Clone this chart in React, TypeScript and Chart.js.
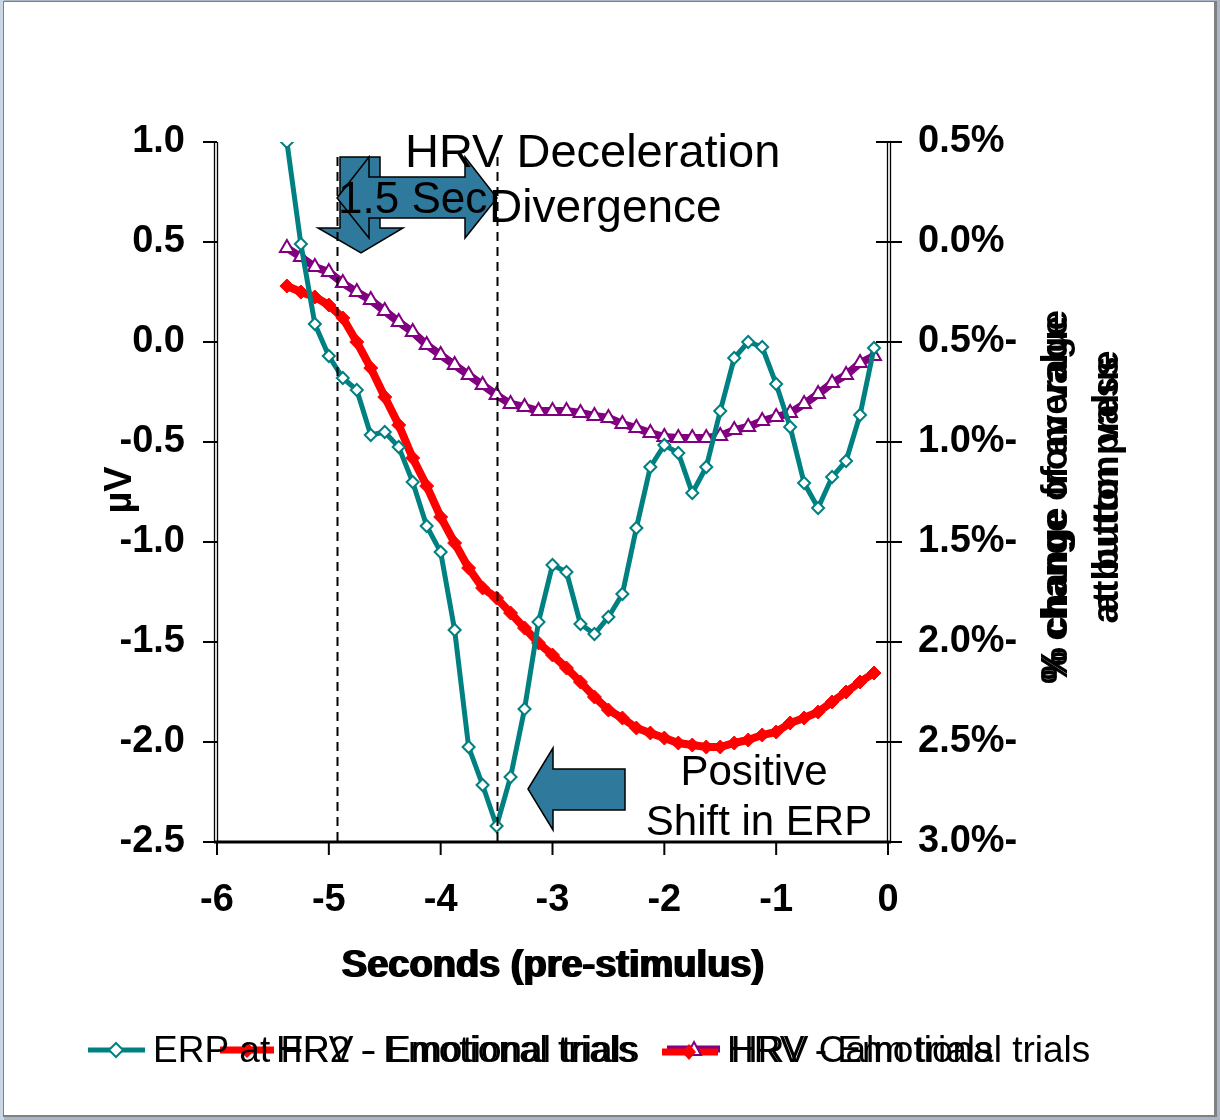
import React, { useEffect, useRef } from "react";
import { Chart, registerables } from "chart.js";

Chart.register(...registerables);

const FONT = "'Liberation Sans', Arial, Helvetica, sans-serif";

// Time of each sample (seconds, pre-stimulus)
const TIMES = [
  -5.375, -5.25, -5.125, -5.0, -4.875, -4.75, -4.625, -4.5, -4.375, -4.25, -4.125,
  -4.0, -3.875, -3.75, -3.625, -3.5, -3.375, -3.25, -3.125, -3.0, -2.875, -2.75,
  -2.625, -2.5, -2.375, -2.25, -2.125, -2.0, -1.875, -1.75, -1.625, -1.5, -1.375,
  -1.25, -1.125, -1.0, -0.875, -0.75, -0.625, -0.5, -0.375, -0.25, -0.125,
];

// ERP at FR2 - Emotional trials (µV, left axis)
const ERP = [
  1.0, 0.49, 0.09, -0.07, -0.18, -0.24, -0.465, -0.45, -0.525, -0.7, -0.92,
  -1.05, -1.44, -2.025, -2.215, -2.42, -2.175, -1.835, -1.4, -1.115, -1.15, -1.41,
  -1.46, -1.375, -1.26, -0.93, -0.625, -0.515, -0.555, -0.755, -0.625, -0.345, -0.08,
  0.0, -0.025, -0.21, -0.425, -0.705, -0.83, -0.675, -0.595, -0.365, -0.03,
];

// HRV - Emotional trials (% change, right axis)
const HRV_EMOTIONAL = [
  -0.22, -0.25, -0.275, -0.315, -0.38, -0.5, -0.63, -0.775, -0.915, -1.08, -1.22,
  -1.375, -1.505, -1.63, -1.73, -1.78, -1.855, -1.93, -2.005, -2.065, -2.13, -2.2,
  -2.275, -2.34, -2.38, -2.43, -2.455, -2.48, -2.505, -2.515, -2.525, -2.525, -2.505,
  -2.49, -2.465, -2.45, -2.405, -2.38, -2.35, -2.3, -2.25, -2.2, -2.155,
];

// HRV Calm trials (% change, right axis)
const HRV_CALM = [
  -0.03, -0.075, -0.125, -0.15, -0.205, -0.25, -0.29, -0.345, -0.4, -0.45, -0.515,
  -0.565, -0.615, -0.665, -0.715, -0.765, -0.81, -0.825, -0.845, -0.845, -0.845, -0.855,
  -0.87, -0.88, -0.91, -0.93, -0.955, -0.975, -0.98, -0.98, -0.98, -0.97, -0.94,
  -0.925, -0.895, -0.875, -0.855, -0.81, -0.76, -0.705, -0.665, -0.605, -0.57,
];

const X_MIN = -6;
const X_MAX = 0;
const Y_MIN = -2.5;
const Y_MAX = 1.0;
const Y1_MIN = -3.0;
const Y1_MAX = 0.5;
const STEP_Y = 0.5;

const DIVIDER_TIMES = [-4.93, -3.5];

const X_TITLE = "Seconds (pre-stimulus)";
const Y_TITLE = "µV";
const Y1_TITLE_A = ["% change from value", "at button press"];
const Y1_TITLE_B = ["% change of average", "at button value"];
const LEGEND_ERP = "ERP at FR2 - Emotional trials";
const LEGEND_HRV_EMO = "HRV - Emotional trials";
const LEGEND_HRV_CALM = "HRV Calm trials";

const TEAL = "#008080";
const RED = "#FF0000";
const PURPLE = "#800080";
const ARROW_FILL = "#2F7A9C";

function poly(ctx: CanvasRenderingContext2D, pts: number[][]) {
  ctx.beginPath();
  ctx.moveTo(pts[0][0], pts[0][1]);
  for (let i = 1; i < pts.length; i++) ctx.lineTo(pts[i][0], pts[i][1]);
  ctx.closePath();
  ctx.fillStyle = ARROW_FILL;
  ctx.fill();
  ctx.strokeStyle = "#000";
  ctx.lineWidth = 1.5;
  ctx.stroke();
}

function seg(ctx: CanvasRenderingContext2D, x1: number, y1: number, x2: number, y2: number) {
  ctx.beginPath();
  ctx.moveTo(x1, y1);
  ctx.lineTo(x2, y2);
  ctx.stroke();
}

const decoPlugin = {
  id: "deco",
  beforeDraw(chart: any) {
    const ctx = chart.ctx as CanvasRenderingContext2D;
    const W = chart.width;
    const H = chart.height;
    ctx.save();
    ctx.fillStyle = "#AAB6C6";
    ctx.fillRect(0, 0, W, H);
    ctx.fillStyle = "#C9D6E6";
    ctx.fillRect(0, 0, 4, H);
    ctx.fillStyle = "#808080";
    ctx.fillRect(3, 1, W - 6, H - 4);
    ctx.fillStyle = "#FFFFFF";
    ctx.fillRect(4, 2, W - 10, H - 7);
    ctx.restore();
  },
  afterDraw(chart: any) {
    const ctx = chart.ctx as CanvasRenderingContext2D;
    const ca = chart.chartArea;
    const xs = chart.scales.x;
    const ys = chart.scales.y;
    const y1s = chart.scales.y1;
    ctx.save();

    // axis lines
    ctx.strokeStyle = "#000";
    ctx.lineWidth = 1.3;
    seg(ctx, ca.left - 2.5, ca.top, ca.left - 2.5, ca.bottom + 1);
    seg(ctx, ca.left + 0.5, ca.top, ca.left + 0.5, ca.bottom + 1);
    seg(ctx, ca.right - 0.5, ca.top, ca.right - 0.5, ca.bottom + 1);
    seg(ctx, ca.right + 2.5, ca.top, ca.right + 2.5, ca.bottom + 1);
    ctx.lineWidth = 3;
    seg(ctx, ca.left - 3, ca.bottom, ca.right + 3, ca.bottom);

    // tick marks
    ctx.lineWidth = 2;
    ys.ticks.forEach((t: any) => {
      const p = ys.getPixelForValue(t.value);
      seg(ctx, ca.left - 14, p, ca.left, p);
    });
    y1s.ticks.forEach((t: any) => {
      const p = y1s.getPixelForValue(t.value);
      seg(ctx, ca.right - 12, p, ca.right + 14, p);
    });
    xs.ticks.forEach((t: any) => {
      const p = xs.getPixelForValue(t.value);
      seg(ctx, p, ca.bottom, p, ca.bottom + 13);
    });

    // arrows
    poly(ctx, [
      [340, 157], [380, 157], [380, 228], [403, 228], [361, 253], [318, 228], [340, 228],
    ]);
    poly(ctx, [
      [337, 198], [369, 157], [369, 177], [465, 177], [465, 157], [497, 198],
      [465, 238], [465, 218], [369, 218], [369, 238],
    ]);
    poly(ctx, [
      [528, 789], [553, 748], [553, 769], [625, 769], [625, 810], [553, 810], [553, 830],
    ]);

    // dashed dividers
    ctx.strokeStyle = "#000";
    ctx.lineWidth = 2;
    ctx.setLineDash([9, 6]);
    DIVIDER_TIMES.forEach((t) => {
      const p = Math.round(xs.getPixelForValue(t)) + 0.5;
      seg(ctx, p, 157, p, ca.bottom);
    });
    ctx.setLineDash([]);

    // annotation text
    ctx.fillStyle = "#000";
    ctx.textAlign = "left";
    ctx.textBaseline = "alphabetic";
    ctx.font = `47px ${FONT}`;
    ctx.fillText("HRV Deceleration", 405, 167);
    ctx.font = `46px ${FONT}`;
    ctx.fillText("Divergence", 489, 222);
    ctx.font = `44px ${FONT}`;
    ctx.fillText("1.5 Sec", 338, 213);
    ctx.font = `42px ${FONT}`;
    ctx.textAlign = "center";
    ctx.fillText("Positive", 754, 785);
    ctx.fillText("Shift in ERP", 759, 835);

    // x title (slightly doubled)
    ctx.font = `bold 38px ${FONT}`;
    ctx.fillText(X_TITLE, 552, 977);
    ctx.fillText(X_TITLE, 554, 977);

    // y title
    ctx.save();
    ctx.translate(121, 490);
    ctx.rotate(-Math.PI / 2);
    ctx.textBaseline = "middle";
    ctx.font = `bold 38px ${FONT}`;
    ctx.fillText(Y_TITLE, 0, 0);
    ctx.restore();

    // right title (two overlapping titles)
    const drawRot = (txt: string, cx: number, cy: number) => {
      ctx.save();
      ctx.translate(cx, cy);
      ctx.rotate(-Math.PI / 2);
      ctx.textAlign = "center";
      ctx.textBaseline = "middle";
      ctx.font = `bold 37px ${FONT}`;
      ctx.fillText(txt, 0, 0);
      ctx.restore();
    };
    drawRot(Y1_TITLE_A[0], 1057, 495);
    drawRot(Y1_TITLE_A[1], 1108, 490);
    drawRot(Y1_TITLE_B[0], 1057, 500);
    drawRot(Y1_TITLE_B[1], 1108, 482);

    // legend
    const ly = 1050;
    ctx.textAlign = "left";
    ctx.textBaseline = "middle";
    ctx.font = `37px ${FONT}`;
    // teal
    ctx.strokeStyle = TEAL;
    ctx.lineWidth = 5;
    seg(ctx, 88, ly, 145, ly);
    ctx.beginPath();
    ctx.moveTo(116, ly - 7); ctx.lineTo(123, ly); ctx.lineTo(116, ly + 7); ctx.lineTo(109, ly);
    ctx.closePath();
    ctx.fillStyle = "#fff"; ctx.fill();
    ctx.lineWidth = 2; ctx.stroke();
    // red 1
    ctx.strokeStyle = RED;
    ctx.lineWidth = 7;
    seg(ctx, 220, ly, 274, ly);
    ctx.beginPath();
    ctx.moveTo(247, ly - 8); ctx.lineTo(255, ly); ctx.lineTo(247, ly + 8); ctx.lineTo(239, ly);
    ctx.closePath();
    ctx.fillStyle = RED; ctx.fill();
    ctx.fillStyle = "#000";
    ctx.fillText(LEGEND_ERP, 153, ly + 2);
    ctx.fillText(LEGEND_HRV_EMO, 276, ly + 2);
    // purple + red 2
    ctx.strokeStyle = PURPLE;
    ctx.lineWidth = 7;
    seg(ctx, 667, ly - 1, 720, ly - 1);
    ctx.strokeStyle = RED;
    seg(ctx, 662, ly + 2, 718, ly + 2);
    ctx.beginPath();
    ctx.moveTo(694, ly - 8); ctx.lineTo(701, ly + 5); ctx.lineTo(687, ly + 5);
    ctx.closePath();
    ctx.fillStyle = "#fff"; ctx.fill();
    ctx.strokeStyle = PURPLE; ctx.lineWidth = 2; ctx.stroke();
    ctx.beginPath();
    ctx.moveTo(689, ly - 6); ctx.lineTo(696, ly + 2); ctx.lineTo(689, ly + 10); ctx.lineTo(682, ly + 2);
    ctx.closePath();
    ctx.fillStyle = RED; ctx.fill();
    ctx.fillStyle = "#000";
    ctx.fillText(LEGEND_HRV_EMO, 727, ly + 2);
    ctx.fillText(LEGEND_HRV_CALM, 731, ly + 2);

    ctx.restore();
  },
};

export default function App() {
  const ref = useRef<HTMLCanvasElement | null>(null);

  useEffect(() => {
    document.body.style.margin = "0";
    const canvas = ref.current;
    if (!canvas) return;

    const erpData = TIMES.map((t, i) => ({ x: t, y: ERP[i] }));
    const emoData = TIMES.map((t, i) => ({ x: t, y: HRV_EMOTIONAL[i] }));
    const calmData = TIMES.map((t, i) => ({ x: t, y: HRV_CALM[i] }));

    const tickFont = { family: FONT, size: 38, weight: "bold" as const };

    const chart = new Chart(canvas, {
      type: "line",
      data: {
        datasets: [
          {
            label: LEGEND_ERP,
            data: erpData,
            yAxisID: "y",
            borderColor: TEAL,
            borderWidth: 5,
            pointStyle: "rectRot",
            pointRadius: 6,
            pointBackgroundColor: "#FFFFFF",
            pointBorderColor: TEAL,
            pointBorderWidth: 2,
            tension: 0,
          },
          {
            label: LEGEND_HRV_EMO,
            data: emoData,
            yAxisID: "y1",
            borderColor: RED,
            borderWidth: 8,
            pointStyle: "rectRot",
            pointRadius: 7,
            pointBackgroundColor: RED,
            pointBorderColor: RED,
            pointBorderWidth: 1,
            tension: 0,
          },
          {
            label: LEGEND_HRV_CALM,
            data: calmData,
            yAxisID: "y1",
            borderColor: PURPLE,
            borderWidth: 8,
            pointStyle: "triangle",
            pointRadius: 8,
            pointBackgroundColor: "#FFFFFF",
            pointBorderColor: PURPLE,
            pointBorderWidth: 2,
            tension: 0,
          },
        ],
      },
      options: {
        animation: false,
        responsive: false,
        devicePixelRatio: 1,
        layout: { padding: { top: 142, left: 0, right: 0, bottom: 0 } },
        plugins: {
          legend: { display: false },
          tooltip: { enabled: false },
        },
        scales: {
          x: {
            type: "linear",
            min: X_MIN,
            max: X_MAX,
            grid: { display: false },
            border: { display: false },
            ticks: {
              stepSize: 1,
              font: tickFont,
              color: "#000",
              padding: 28,
              callback: (v: any) => String(v),
            },
            afterFit: (s: any) => {
              s.height = 278;
            },
          },
          y: {
            type: "linear",
            position: "left",
            min: Y_MIN,
            max: Y_MAX,
            grid: { display: false },
            border: { display: false },
            ticks: {
              stepSize: STEP_Y,
              font: tickFont,
              color: "#000",
              padding: 24,
              callback: (v: any) => Number(v).toFixed(1),
            },
            afterFit: (s: any) => {
              s.width = 217;
            },
          },
          y1: {
            type: "linear",
            position: "right",
            min: Y1_MIN,
            max: Y1_MAX,
            grid: { display: false },
            border: { display: false },
            ticks: {
              stepSize: STEP_Y,
              font: tickFont,
              color: "#000",
              padding: 22,
              callback: (v: any) => {
                const n = Number(v);
                return n < -1e-9 ? Math.abs(n).toFixed(1) + "%-" : Math.abs(n).toFixed(1) + "%";
              },
            },
            afterFit: (s: any) => {
              s.width = 332;
            },
          },
        },
      },
      plugins: [decoPlugin],
    });

    return () => chart.destroy();
  }, []);

  return (
    <div style={{ width: 1220, height: 1120 }}>
      <canvas ref={ref} width={1220} height={1120} style={{ width: 1220, height: 1120, display: "block" }} />
    </div>
  );
}
